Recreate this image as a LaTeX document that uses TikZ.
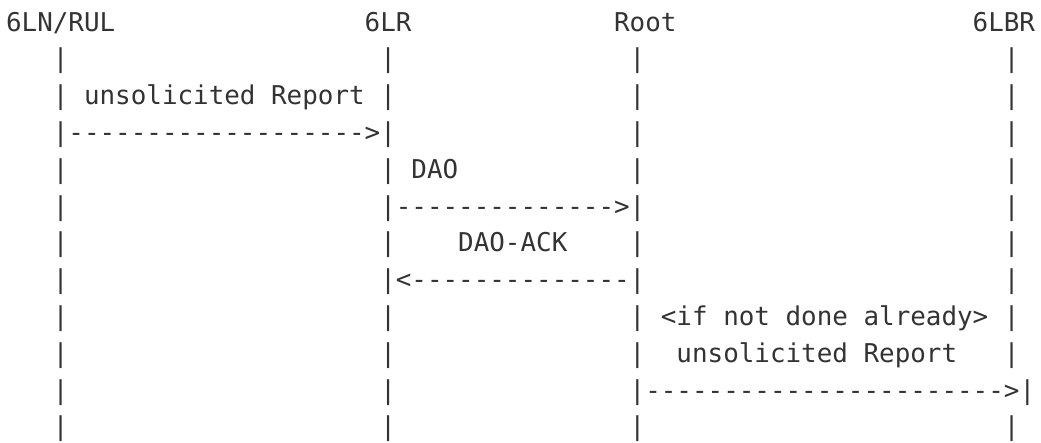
\documentclass[tikz,border=0pt]{standalone}
\usepackage{fontspec}
\setmonofont{DejaVu Sans Mono}
\definecolor{ink}{HTML}{333333}
\newcommand\putcell[4]{\node[txt] (#1) at ({6.1+#3*15.59},{-31-36.8*#2}) {#4};}
\begin{document}
\begin{tikzpicture}[x=1pt,y=1pt,
  txt/.style={anchor=base west, inner sep=0pt, outer sep=0pt,
    font=\ttfamily\fontsize{25.9}{30}\selectfont, text=ink}]
\useasboundingbox (0,0) rectangle (1041,-442);
% header
\putcell{hln}{0}{0}{6LN/RUL}
\putcell{hlr}{0}{23}{6LR}
\putcell{hroot}{0}{39}{Root}
\putcell{hlbr}{0}{62}{6LBR}
% lifeline bars
\foreach \r in {1,2,4,6,8,9,11} {\putcell{bA\r}{\r}{3}{|}}
\foreach \r in {1,2,4,6,8,9,11} {\putcell{bB\r}{\r}{24}{|}}
\foreach \r in {1,2,3,4,6,8,9,11} {\putcell{bC\r}{\r}{40}{|}}
\foreach \r in {1,2,3,4,6,8,9,11} {\putcell{bD\r}{\r}{64}{|}}
\foreach \r in {3,5,7,10} {\putcell{bA\r}{\r}{3}{|}}
\foreach \r in {10} {\putcell{bB\r}{\r}{24}{|}}
\foreach \r in {5,7} {\putcell{bD\r}{\r}{64}{|}}
% messages
\putcell{m1}{2}{5}{unsolicited Report}
\putcell{a1}{3}{4}{-------------------\string>|}
\putcell{m2}{4}{26}{DAO}
\putcell{a2}{5}{24}{|--------------\string>|}
\putcell{m3}{6}{29}{DAO-ACK}
\putcell{a3}{7}{24}{|\string<--------------|}
\putcell{m4}{8}{42}{\string<if not done already\string>}
\putcell{m5}{9}{43}{unsolicited Report}
\putcell{a4}{10}{40}{|-----------------------\string>|}
\end{tikzpicture}
\end{document}
